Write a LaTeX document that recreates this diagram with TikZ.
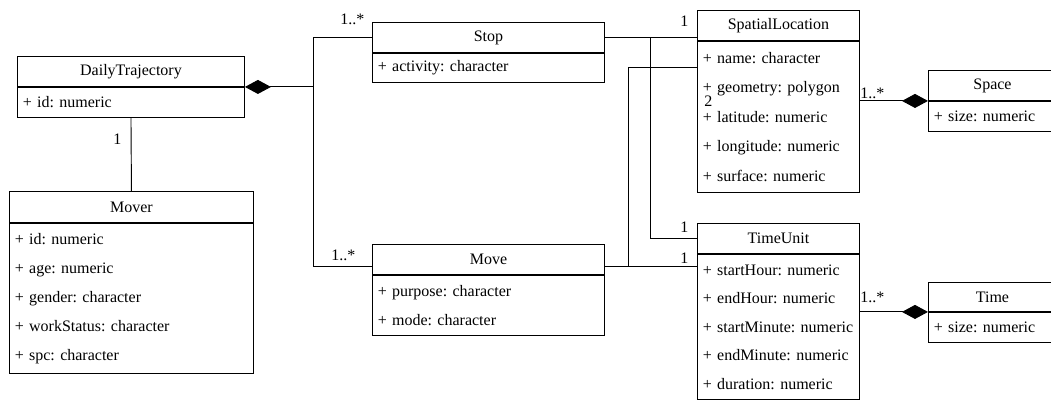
\documentclass[tikz,border=0pt]{standalone}
\usepackage{fontspec}
\setmainfont{Liberation Serif}
\usetikzlibrary{arrows.meta, positioning}
\newcommand{\umlfont}{\fontsize{12pt}{21.75pt}\selectfont\frenchspacing}

\begin{document}
\begin{tikzpicture}[
                    x=0.75pt, y=-0.75pt,
                    font=\umlfont,
                    classname/.style={rectangle, draw, line width=0.7pt, anchor=north west, minimum height=22.5pt, inner sep=0pt},
                    attrs/.style={rectangle, draw, line width=0.7pt, align=left, inner xsep=4pt, inner ysep=0pt},
                    line/.style={draw, line width=0.7pt},
                    comp/.style={line, -{Diamond[length=19.5pt, width=10.5pt]}},
                    mult/.style={inner sep=0pt, anchor=base west}
                ]
                    \path [use as bounding box, fill=white] (0,0) rectangle (1051,400);
                    \clip (0,0) rectangle (1051,400);

                    % Place classes
                    \node [classname, minimum width=170.25pt] (dt) at (17,56) {DailyTrajectory};
                    \node [attrs, below=0pt of dt, text width=162.25pt, minimum height=22.5pt] (dtattr) {+ id: numeric};

                    \node [classname, minimum width=183pt, minimum height=23.25pt] (mover) at (9,191) {Mover};
                    \node [attrs, below=0pt of mover, text width=175pt, minimum height=112.5pt] (moverattr)
                        {+ id: numeric\\ + age: numeric\\ + gender: character\\ + workStatus: character\\ + spc: character};

                    \node [classname, minimum width=174pt] (stop) at (372,22) {Stop};
                    \node [attrs, below=0pt of stop, text width=166pt, minimum height=21.75pt] (stopattr) {+ activity: character};

                    \node [classname, minimum width=174pt] (move) at (372,244) {Move};
                    \node [attrs, below=0pt of move, text width=166pt, minimum height=45pt] (moveattr)
                        {+ purpose: character\\ + mode: character};

                    \node [classname, minimum width=121.5pt] (sl) at (697,10) {SpatialLocation};
                    \node [attrs, below=0pt of sl, text width=113.5pt, minimum height=113.25pt, font=\fontsize{12pt}{22.1pt}\selectfont\frenchspacing] (slattr)
                        {+ name: character\\ + geometry: polygon\\ + latitude: numeric\\ + longitude: numeric\\ + surface: numeric};

                    \node [classname, minimum width=121.5pt] (tu) at (697,223) {TimeUnit};
                    \node [attrs, below=0pt of tu, text width=113.5pt, minimum height=108.75pt, font=\fontsize{12pt}{21.4pt}\selectfont\frenchspacing] (tuattr)
                        {+ startHour: numeric\\ + endHour: numeric\\ + startMinute: numeric\\ + endMinute: numeric\\ + duration: numeric};

                    \node [classname, minimum width=96pt] (space) at (928,70) {Space};
                    \node [attrs, below=0pt of space, text width=88pt, minimum height=22.5pt] (spaceattr) {+ size: numeric};

                    \node [classname, minimum width=96pt, minimum height=21.75pt] (time) at (928,282) {Time};
                    \node [attrs, below=0pt of time, text width=88pt, minimum height=22.5pt] (timeattr) {+ size: numeric};

                    % Draw associations
                    \coordinate [right=51.75pt of dt.south east] (fork);
                    \path [comp] (fork) -- (dt.south east);
                    \path [line] (fork) |- (stop.west);
                    \path [line] (fork) |- ([yshift=-5.25pt]move.west);
                    \path [line] (dtattr.south) -- (mover.north);

                    \path [line] (stop.east) -- (stop.east -| sl.west);
                    \path [line] (stop.east) -- ++(34.5pt,0) |- (tu.west);
                    \path [line] ([yshift=-5.25pt]move.east) -- ([yshift=-5.25pt]move.east -| tu.west);
                    \path [line] ([yshift=-5.25pt]move.east) -- ++(18pt,0) |- ([yshift=-20.25pt]sl.south west);

                    \path [comp] (space.south west -| slattr.east) -- (space.south west);
                    \path [comp] (time.south west -| tuattr.east) -- (time.south west);

                    % Multiplicities
                    \node [mult] (mdt) at (113,144) {1};
                    \node [mult] (mstop) at (340,24) {1..*};
                    \node [mult] (mmove) at (331,260) {1..*};
                    \node [mult] (msl) at (680,26) {1};
                    \node [mult] (mtustop) at (680,232) {1};
                    \node [mult] (mtumove) at (680,263) {1};
                    \node [mult] (mslmove) at (704,106) {2};
                    \node [mult] (mspace) at (860,98) {1..*};
                    \node [mult] (mtime) at (860,302) {1..*};
            \end{tikzpicture}
\end{document}
